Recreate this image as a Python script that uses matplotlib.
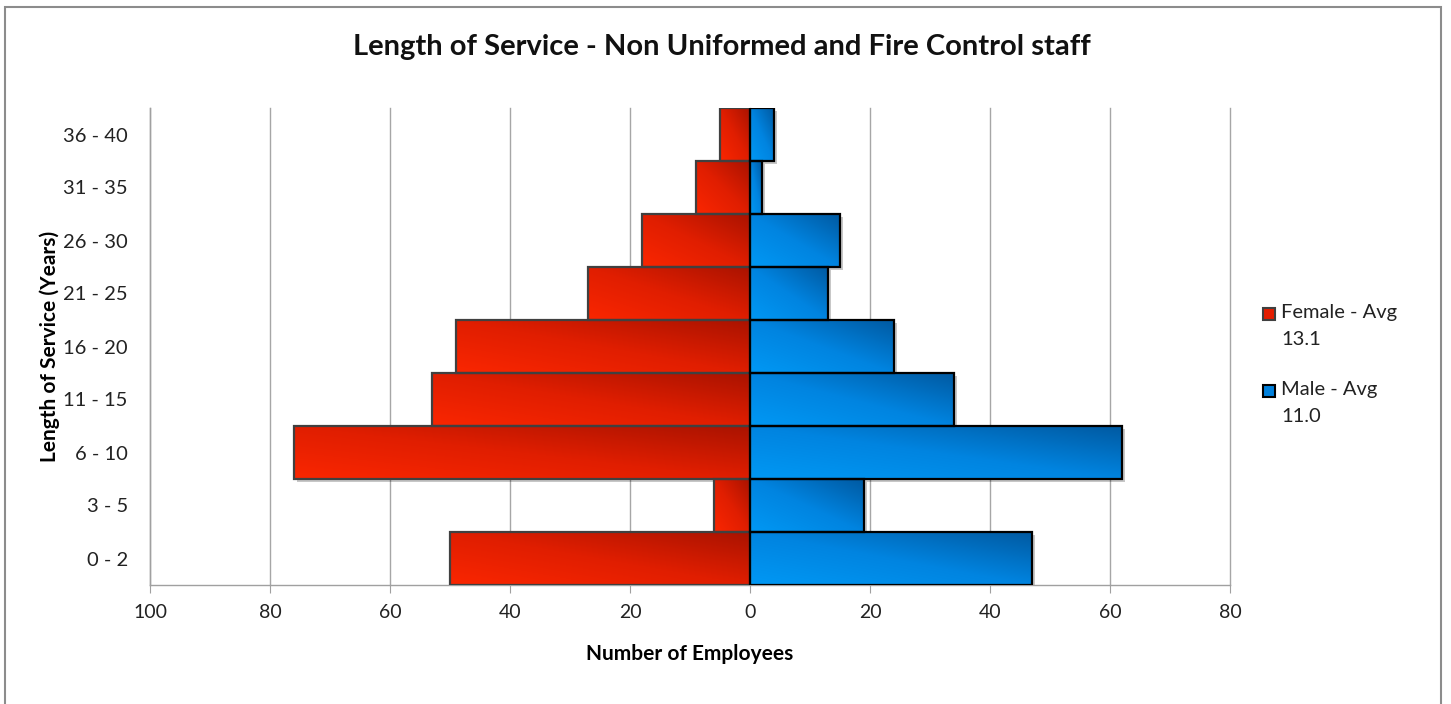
import numpy as np
import matplotlib
matplotlib.use("Agg")
import matplotlib.pyplot as plt
from matplotlib.colors import LinearSegmentedColormap
from matplotlib.patches import Rectangle
import matplotlib.patheffects as pe

plt.rcParams['font.family'] = ['Lato', 'DejaVu Sans']

# -----------------------------
# Data
# -----------------------------
service_bands = ["0 - 2", "3 - 5", "6 - 10", "11 - 15", "16 - 20",
                 "21 - 25", "26 - 30", "31 - 35", "36 - 40"]
female = [50, 6, 76, 53, 49, 27, 18, 9, 5]
male = [47, 19, 62, 34, 24, 13, 15, 2, 4]
legend_labels = ["Female - Avg\n13.1", "Male - Avg\n11.0"]
x_ticks = [-100, -80, -60, -40, -20, 0, 20, 40, 60, 80]

female_cmap = LinearSegmentedColormap.from_list("fem", ["#fa2600", "#e01e00", "#aa1300"])
male_cmap = LinearSegmentedColormap.from_list("mal", ["#0098f4", "#0084e0", "#005aa2"])

# -----------------------------
# Figure
# -----------------------------
fig = plt.figure(figsize=(14.51, 7.04), dpi=100)
ax = fig.add_axes([150 / 1451, 1 - 585 / 704, 1080 / 1451, 477 / 704])

y = np.arange(len(service_bands))
shadow = [pe.SimplePatchShadow(offset=(2.5, -2.5), shadow_rgbFace="#000000", alpha=0.22),
          pe.Normal()]

# base bars (white, with drop shadow) used as clip paths for the gradients
fem_base = ax.barh(y, [-v for v in female], height=1.0, facecolor="white",
                   edgecolor="none", zorder=2, path_effects=shadow)
male_base = ax.barh(y, male, height=1.0, facecolor="white",
                    edgecolor="none", zorder=2, path_effects=shadow)

# diagonal gradient: bright bottom-left -> dark top-right
u = np.linspace(0, 1, 64)
grad = (u[None, :] + u[:, None]) / 2.0
for bars, cmap in [(fem_base, female_cmap), (male_base, male_cmap)]:
    for b in bars:
        x0, y0 = b.get_x(), b.get_y()
        w, h = b.get_width(), b.get_height()
        xl, xr = min(x0, x0 + w), max(x0, x0 + w)
        im = ax.imshow(grad, cmap=cmap, extent=(xl, xr, y0, y0 + h),
                       origin="lower", aspect="auto", zorder=2.5,
                       interpolation="bilinear", vmin=0, vmax=1)
        im.set_clip_path(b)

# outlines on top
ax.barh(y, [-v for v in female], height=1.0, facecolor="none",
        edgecolor="#404040", linewidth=1.6, zorder=3)
ax.barh(y, male, height=1.0, facecolor="none",
        edgecolor="#000000", linewidth=1.6, zorder=3)

ax.set_xlim(-100, 80)
ax.set_ylim(-0.5, 8.5)
ax.set_aspect("auto")
ax.set_xticks(x_ticks)
ax.set_xticklabels([str(abs(t)) for t in x_ticks])
ax.set_yticks(y)
ax.set_yticklabels(service_bands)
ax.tick_params(axis="x", length=6, color="#a0a0a0", labelsize=14,
               labelcolor="#222222", pad=8)
ax.tick_params(axis="y", length=0, labelsize=14.5, labelcolor="#222222", pad=16)
ax.grid(axis="x", color="#a6a6a6", linewidth=1.0, zorder=0)
for gl in ax.get_xgridlines():
    gl.set_clip_on(False)
ax.set_axisbelow(True)
for s in ["top", "right"]:
    ax.spines[s].set_visible(False)
for s in ["left", "bottom"]:
    ax.spines[s].set_color("#a0a0a0")
    ax.spines[s].set_linewidth(1.0)

ax.set_xlabel("Number of Employees", fontsize=15, fontweight="bold", labelpad=16)
ax.set_ylabel("Length of Service (Years)", fontsize=15, fontweight="bold", labelpad=2)

fig.text(722 / 1451, 1 - 47 / 704, "Length of Service - Non Uniformed and Fire Control staff",
         ha="center", va="center", fontsize=21, fontweight="bold", color="#111111")

# legend (drawn by hand so the swatch sits beside the first line)
legend_faces = ["#e41d00", "#0080dc"]
legend_edges = ["#404040", "#000000"]
legend_tops = [304, 381]
for lab, fc, ec, top in zip(legend_labels, legend_faces, legend_edges, legend_tops):
    fig.patches.append(Rectangle((1263 / 1451, 1 - (top + 16) / 704), 12 / 1451, 12 / 704,
                                 transform=fig.transFigure, facecolor=fc,
                                 edgecolor=ec, linewidth=1.5))
    fig.text(1281 / 1451, 1 - top / 704, lab, ha="left", va="top",
             fontsize=14.5, color="#222222", linespacing=1.7)

# outer chart frame
fig.patches.append(Rectangle((5 / 1451, -0.02), 1436 / 1451, 1.02 - 7 / 704,
                             transform=fig.transFigure, fill=False,
                             edgecolor="#8c8c8c", linewidth=1.5))

fig.savefig("out.png", dpi=100)
